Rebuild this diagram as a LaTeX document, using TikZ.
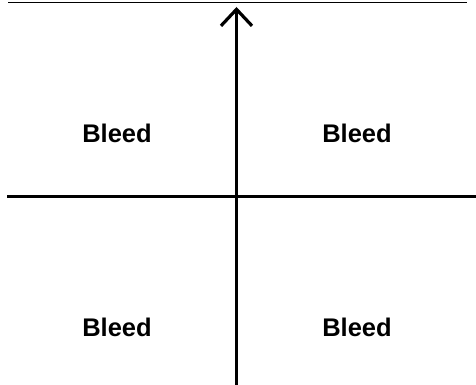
\documentclass[tikz,border=0pt]{standalone}
\usepackage{fontspec}
\setmainfont{Liberation Sans}
\usetikzlibrary{arrows.meta}
\begin{document}
\begin{tikzpicture}[x=1pt,y=1pt,
  axis/.style={line width=3.2pt,black},
  lbl/.style={font=\bfseries\fontsize{25.5}{30}\selectfont,inner sep=0pt}]
\useasboundingbox (0,0) rectangle (476,385);
\coordinate (tl) at (8,382);
\coordinate (tr) at (467,382);
\coordinate (hl) at (7,188.5);
\coordinate (hr) at (476,188.5);
\coordinate (vb) at (236.5,0);
\coordinate (vt) at (236.5,378);
\draw[line width=1pt] (tl) -- (tr);
\draw[axis] (hl) -- (hr);
\draw[axis,-{Straight Barb[length=16.5pt,width=31pt,line width=3.2pt]}] (vb) -- (vt);
\node[lbl] (q1) at (117,252) {Bleed};
\node[lbl] (q2) at (357,252) {Bleed};
\node[lbl] (q3) at (117,58) {Bleed};
\node[lbl] (q4) at (357,58) {Bleed};
\end{tikzpicture}
\end{document}
